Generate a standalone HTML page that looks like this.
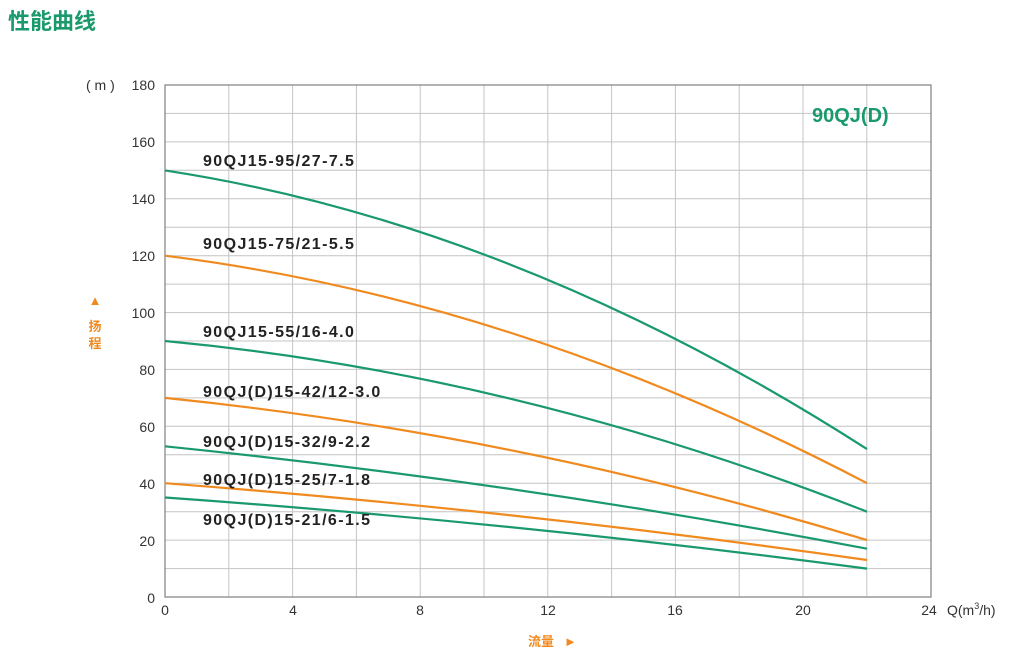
<!DOCTYPE html>
<html><head><meta charset="utf-8"><style>
body{margin:0;background:#fff;width:1030px;height:665px;overflow:hidden;font-family:"Liberation Sans","Noto Sans CJK SC",sans-serif}
</style></head><body>
<svg width="1030" height="665" xmlns="http://www.w3.org/2000/svg" font-family="Liberation Sans, Noto Sans CJK SC, sans-serif">
<text x="8" y="29" font-size="22" font-weight="bold" fill="#1a9a6c" font-family="Noto Sans CJK SC, sans-serif">性能曲线</text>
<g stroke="#c4c4c4" stroke-width="1">
<line x1="165" y1="113.4" x2="931" y2="113.4"/><line x1="165" y1="141.9" x2="931" y2="141.9"/><line x1="165" y1="170.3" x2="931" y2="170.3"/><line x1="165" y1="198.8" x2="931" y2="198.8"/><line x1="165" y1="227.2" x2="931" y2="227.2"/><line x1="165" y1="255.7" x2="931" y2="255.7"/><line x1="165" y1="284.1" x2="931" y2="284.1"/><line x1="165" y1="312.6" x2="931" y2="312.6"/><line x1="165" y1="341" x2="931" y2="341"/><line x1="165" y1="369.4" x2="931" y2="369.4"/><line x1="165" y1="397.9" x2="931" y2="397.9"/><line x1="165" y1="426.3" x2="931" y2="426.3"/><line x1="165" y1="454.8" x2="931" y2="454.8"/><line x1="165" y1="483.2" x2="931" y2="483.2"/><line x1="165" y1="511.7" x2="931" y2="511.7"/><line x1="165" y1="540.1" x2="931" y2="540.1"/><line x1="165" y1="568.6" x2="931" y2="568.6"/>
<line x1="228.8" y1="85" x2="228.8" y2="597"/><line x1="292.6" y1="85" x2="292.6" y2="597"/><line x1="356.4" y1="85" x2="356.4" y2="597"/><line x1="420.2" y1="85" x2="420.2" y2="597"/><line x1="484" y1="85" x2="484" y2="597"/><line x1="547.8" y1="85" x2="547.8" y2="597"/><line x1="611.6" y1="85" x2="611.6" y2="597"/><line x1="675.4" y1="85" x2="675.4" y2="597"/><line x1="739.2" y1="85" x2="739.2" y2="597"/><line x1="803" y1="85" x2="803" y2="597"/><line x1="866.8" y1="85" x2="866.8" y2="597"/>
</g>
<rect x="165" y="85" width="766" height="512" fill="none" stroke="#888" stroke-width="1.3"/>
<g font-size="14" fill="#333" text-anchor="end">
<text x="155" y="90">180</text><text x="155" y="147">160</text><text x="155" y="204">140</text><text x="155" y="261">120</text><text x="155" y="318">100</text><text x="155" y="375">80</text><text x="155" y="432">60</text><text x="155" y="489">40</text><text x="155" y="546">20</text><text x="155" y="603">0</text>
</g>
<text x="86" y="90" font-size="14" fill="#333">( m )</text>
<g font-size="14" fill="#333" text-anchor="middle">
<text x="165" y="615">0</text><text x="293" y="615">4</text><text x="420" y="615">8</text><text x="548" y="615">12</text><text x="675" y="615">16</text><text x="803" y="615">20</text><text x="929" y="615">24</text>
</g>
<text x="947" y="615" font-size="14" fill="#333">Q(m<tspan font-size="9" dy="-6">3</tspan><tspan dy="6">/h)</tspan></text>
<text x="812" y="122" font-size="20" font-weight="bold" fill="#1a9a6c">90QJ(D)</text>
<text x="95" y="305" font-size="13" fill="#f08a1e" text-anchor="middle">▲</text>
<text x="95" y="331" font-size="13" font-weight="bold" fill="#f08a1e" text-anchor="middle" font-family="Noto Sans CJK SC, sans-serif">扬</text>
<text x="95" y="348" font-size="13" font-weight="bold" fill="#f08a1e" text-anchor="middle" font-family="Noto Sans CJK SC, sans-serif">程</text>
<text x="528" y="646" font-size="13" font-weight="bold" fill="#f08a1e" font-family="Noto Sans CJK SC, sans-serif">流量</text>
<text x="564" y="646" font-size="13" fill="#f08a1e">►</text>
<g fill="none" stroke-width="2.2">
<path d="M165,170.4 Q516,223.9 867,449.1" stroke="#1a9a6c"/>
<path d="M165,255.7 Q516,299.5 867,483.2" stroke="#f08a1e"/>
<path d="M165,341 Q516,373.7 867,511.7" stroke="#1a9a6c"/>
<path d="M165,397.9 Q516,433.5 867,540.1" stroke="#f08a1e"/>
<path d="M165,446.3 Q516,482.1 867,548.7" stroke="#1a9a6c"/>
<path d="M165,483.2 Q516,510.1 867,560" stroke="#f08a1e"/>
<path d="M165,497.5 Q516,522.3 867,568.6" stroke="#1a9a6c"/>
</g>
<g font-size="16" font-weight="bold" fill="#222" letter-spacing="1.4">
<text x="203" y="166">90QJ15-95/27-7.5</text>
<text x="203" y="249">90QJ15-75/21-5.5</text>
<text x="203" y="337">90QJ15-55/16-4.0</text>
<text x="203" y="397">90QJ(D)15-42/12-3.0</text>
<text x="203" y="447">90QJ(D)15-32/9-2.2</text>
<text x="203" y="485">90QJ(D)15-25/7-1.8</text>
<text x="203" y="525">90QJ(D)15-21/6-1.5</text>
</g>
</svg>
</body></html>
